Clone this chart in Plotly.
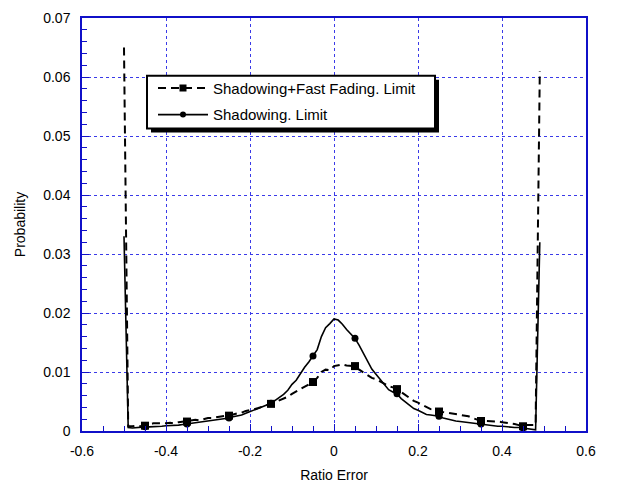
import plotly.graph_objects as go

# ---- data ----
ratio_error = [round(-0.50 + 0.01 * i, 2) for i in range(100)]  # -0.50 .. 0.49

fast_fading = [
    0.0650, 0.0008, 0.0008, 0.0009, 0.0008, 0.0009, 0.0011, 0.0013, 0.0013, 0.0012,
    0.0013, 0.0014, 0.0013, 0.0015, 0.0016, 0.0016, 0.0017, 0.0019, 0.0018, 0.0020,
    0.0022, 0.0022, 0.0023, 0.0024, 0.0025, 0.0026, 0.0028, 0.0030, 0.0031, 0.0034,
    0.0035, 0.0037, 0.0039, 0.0041, 0.0044, 0.0046, 0.0049, 0.0052, 0.0055, 0.0058,
    0.0063, 0.0067, 0.0072, 0.0076, 0.0080, 0.0083, 0.0090, 0.0100, 0.0104, 0.0103,
    0.0110, 0.0112, 0.0113, 0.0111, 0.0110, 0.0110, 0.0104, 0.0099, 0.0095, 0.0090,
    0.0088, 0.0084, 0.0079, 0.0076, 0.0074, 0.0071, 0.0066, 0.0061, 0.0056, 0.0051,
    0.0048, 0.0044, 0.0040, 0.0037, 0.0035, 0.0033, 0.0032, 0.0031, 0.0030, 0.0029,
    0.0028, 0.0027, 0.0025, 0.0022, 0.0019, 0.0017, 0.0017, 0.0017, 0.0016, 0.0016,
    0.0015, 0.0014, 0.0014, 0.0012, 0.0010, 0.0008, 0.0010, 0.0010, 0.0010, 0.0610,
]

shadowing = [
    0.0330, 0.0006, 0.0005, 0.0006, 0.0006, 0.0007, 0.0007, 0.0007, 0.0008, 0.0008,
    0.0009, 0.0009, 0.0010, 0.0010, 0.0011, 0.0012, 0.0012, 0.0013, 0.0014, 0.0015,
    0.0017, 0.0018, 0.0019, 0.0020, 0.0021, 0.0022, 0.0024, 0.0025, 0.0027, 0.0030,
    0.0033, 0.0035, 0.0038, 0.0041, 0.0044, 0.0047, 0.0052, 0.0057, 0.0062, 0.0069,
    0.0079, 0.0086, 0.0098, 0.0108, 0.0117, 0.0127, 0.0138, 0.0160, 0.0175, 0.0182,
    0.0190, 0.0188, 0.0181, 0.0172, 0.0165, 0.0157, 0.0145, 0.0132, 0.0118, 0.0105,
    0.0096, 0.0087, 0.0078, 0.0070, 0.0066, 0.0063, 0.0055, 0.0049, 0.0043, 0.0038,
    0.0035, 0.0031, 0.0028, 0.0027, 0.0026, 0.0025, 0.0022, 0.0020, 0.0018, 0.0017,
    0.0016, 0.0015, 0.0014, 0.0013, 0.0012, 0.0012, 0.0011, 0.0010, 0.0009, 0.0008,
    0.0008, 0.0007, 0.0007, 0.0006, 0.0006, 0.0005, 0.0004, 0.0003, 0.0002, 0.0320,
]

# markers drawn on every tenth sample, starting at -0.45
marker_start, marker_step = 5, 10

series_names = ["Shadowing+Fast Fading. Limit", "Shadowing. Limit"]
x_ticks = [-0.6, -0.4, -0.2, 0, 0.2, 0.4, 0.6]
x_tick_text = ["-0.6", "-0.4", "-0.2", "0", "0.2", "0.4", "0.6"]
y_ticks = [0, 0.01, 0.02, 0.03, 0.04, 0.05, 0.06, 0.07]
y_tick_text = ["0", "0.01", "0.02", "0.03", "0.04", "0.05", "0.06", "0.07"]

FONT = "Liberation Sans, Arial, sans-serif"
AXIS_BLUE = "#1010c8"
GRID_BLUE = "#3a3ae8"

fig = go.Figure()

styles = [
    dict(data=fast_fading, dash="8px,5px", width=2, symbol="square", size=8),
    dict(data=shadowing, dash="solid", width=1.6, symbol="circle", size=7),
]

for name, st in zip(series_names, styles):
    fig.add_trace(go.Scatter(
        x=ratio_error, y=st["data"], mode="lines",
        line=dict(color="black", width=st["width"], dash=st["dash"]),
        showlegend=False, legendgroup=name, hoverinfo="skip",
    ))
    fig.add_trace(go.Scatter(
        x=ratio_error[marker_start::marker_step],
        y=st["data"][marker_start::marker_step],
        mode="markers",
        marker=dict(color="black", symbol=st["symbol"], size=st["size"]),
        showlegend=False, legendgroup=name,
    ))
    fig.add_trace(go.Scatter(
        x=[None], y=[None], mode="lines+markers", name=name, legendgroup=name,
        line=dict(color="black", width=st["width"], dash=st["dash"]),
        marker=dict(color="black", symbol=st["symbol"], size=st["size"] - 1),
    ))

L, R, T, B = 82, 54, 10, 59
W, H = 640, 491
pw, ph = W - L - R, H - T - B

def px_to_paper(px, py):
    return (px - L) / pw, (H - B - py) / ph

# legend box with drop shadow
x0, y0 = px_to_paper(151, 73)
x1, y1 = px_to_paper(439, 127)
fig.add_shape(type="rect", xref="paper", yref="paper", x0=x0, x1=x1, y0=y1, y1=y0,
              fillcolor="black", line=dict(width=0), layer="above")
x0, y0 = px_to_paper(147, 69)
x1, y1 = px_to_paper(435, 123)
fig.add_shape(type="rect", xref="paper", yref="paper", x0=x0, x1=x1, y0=y1, y1=y0,
              fillcolor="white", line=dict(color="black", width=2), layer="above")

lx, ly = px_to_paper(153, 65)

axis_common = dict(
    showline=True, linecolor=AXIS_BLUE, linewidth=1.5, mirror=True,
    showgrid=True, gridcolor=GRID_BLUE, gridwidth=1, griddash="dot",
    zeroline=False, ticks="inside", ticklen=7, tickcolor=AXIS_BLUE,
    tickfont=dict(family=FONT, size=14, color="black"),
    title_font=dict(family=FONT, size=14, color="black"),
)

fig.update_layout(
    width=W, height=H,
    margin=dict(l=L, r=R, t=T, b=B),
    paper_bgcolor="white", plot_bgcolor="white",
    font=dict(family=FONT, size=14, color="black"),
    showlegend=True,
    legend=dict(x=lx, y=ly, xanchor="left", yanchor="top",
                bgcolor="rgba(0,0,0,0)", borderwidth=0,
                font=dict(family=FONT, size=15, color="black"),
                itemwidth=50, tracegroupgap=4),
    xaxis=dict(range=[-0.6, 0.6], tickvals=x_ticks, ticktext=x_tick_text,
               ticklabelstandoff=6,
               minor=dict(ticks="inside", dtick=0.05, ticklen=5, tickcolor=AXIS_BLUE, showgrid=False),
               title=dict(text="Ratio Error", standoff=13), **axis_common),
    yaxis=dict(range=[0, 0.07], tickvals=y_ticks, ticktext=y_tick_text,
               ticklabelstandoff=7,
               minor=dict(ticks="inside", dtick=0.002, ticklen=5, tickcolor=AXIS_BLUE, showgrid=False),
               title=dict(text="Probability", standoff=14), **axis_common),
)

fig.write_html(
    "out.html",
    config={"displayModeBar": False},
    post_script="document.body.style.margin='0';document.body.style.overflow='hidden';",
)
